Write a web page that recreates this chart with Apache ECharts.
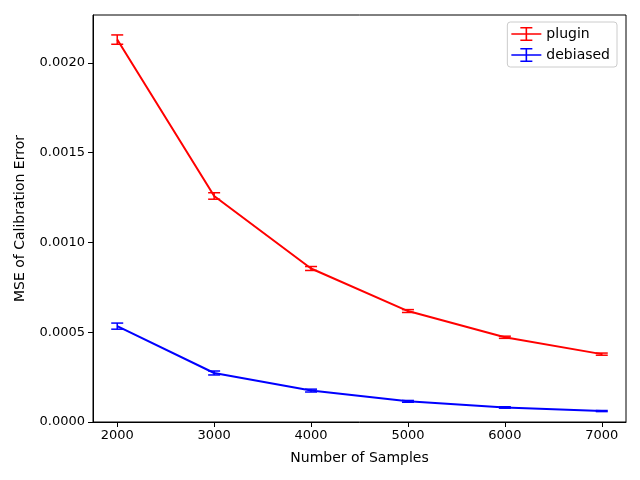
<!DOCTYPE html>
<html>
<head>
<meta charset="utf-8">
<script src="https://cdn.jsdelivr.net/npm/echarts@6/dist/echarts.min.js"></script>
<style>
html, body { margin: 0; padding: 0; background: #fff; }
#chart { width: 640px; height: 480px; }
</style>
</head>
<body>
<div id="chart"></div>
<script>
var samples = [2000, 3000, 4000, 5000, 6000, 7000];
var pluginMean = [0.002130, 0.001259, 0.000855, 0.000618, 0.000472, 0.000378];
var pluginErr = [0.000026, 0.000018, 0.000011, 0.000008, 0.000006, 0.000006];
var debiasedMean = [0.000534, 0.000273, 0.000175, 0.000115, 0.000081, 0.000061];
var debiasedErr = [0.000017, 0.000011, 0.000008, 0.000005, 0.000004, 0.000003];
var xTicks = [2000, 3000, 4000, 5000, 6000, 7000];
var yTicks = [0, 0.0005, 0.0010, 0.0015, 0.0020];

var font = 'DejaVu Sans';
var legendIcon = 'path://M0,6.2L30,6.2L30,7.8L0,7.8Z M14.2,0L15.8,0L15.8,14L14.2,14Z M9,0L21,0L21,1.6L9,1.6Z M9,12.4L21,12.4L21,14L9,14Z';

function errorSeries(name, color, mean, err) {
    return {
        name: name,
        type: 'custom',
        z: 3,
        data: samples.map(function (x, i) {
            return [x, mean[i] - err[i], mean[i] + err[i]];
        }),
        renderItem: function (params, api) {
            var lo = api.coord([api.value(0), api.value(1)]);
            var hi = api.coord([api.value(0), api.value(2)]);
            var w = 6;
            var st = { stroke: color, lineWidth: 1.5 };
            return {
                type: 'group',
                children: [
                    { type: 'line', shape: { x1: lo[0], y1: lo[1], x2: hi[0], y2: hi[1] }, style: st },
                    { type: 'line', shape: { x1: lo[0] - w, y1: lo[1], x2: lo[0] + w, y2: lo[1] }, style: st },
                    { type: 'line', shape: { x1: hi[0] - w, y1: hi[1], x2: hi[0] + w, y2: hi[1] }, style: st }
                ]
            };
        }
    };
}

function lineSeries(name, color, mean) {
    return {
        name: name,
        type: 'line',
        z: 2,
        symbol: 'none',
        lineStyle: { color: color, width: 2 },
        itemStyle: { color: color },
        data: samples.map(function (x, i) { return [x, mean[i]]; })
    };
}

var chart = echarts.init(document.getElementById('chart'), null, { renderer: 'canvas' });
chart.setOption({
    backgroundColor: '#fff',
    animation: false,
    textStyle: { fontFamily: font },
    grid: {
        left: 93, right: 14, top: 15, bottom: 58,
        show: true, borderColor: '#000', borderWidth: 1, backgroundColor: 'transparent'
    },
    legend: {
        right: 23,
        top: 22,
        orient: 'vertical',
        itemWidth: 30,
        itemHeight: 14,
        itemGap: 7,
        padding: [5, 7, 5, 4],
        borderColor: '#cccccc',
        borderWidth: 1,
        borderRadius: 3,
        backgroundColor: '#fff',
        textStyle: { fontFamily: font, fontSize: 14, color: '#000' },
        data: [
            { name: 'plugin', icon: legendIcon, itemStyle: { color: '#ff0000' } },
            { name: 'debiased', icon: legendIcon, itemStyle: { color: '#0000ff' } }
        ]
    },
    xAxis: {
        type: 'value',
        min: 1750,
        max: 7250,
        name: 'Number of Samples',
        nameLocation: 'middle',
        nameGap: 29,
        nameTextStyle: { fontFamily: font, fontSize: 14, color: '#000' },
        splitLine: { show: false },
        axisLine: { lineStyle: { color: '#000' } },
        axisTick: { show: true, length: 5, lineStyle: { color: '#000' }, customValues: xTicks },
        axisLabel: {
            color: '#000', fontSize: 13, fontFamily: font, margin: 7, customValues: xTicks,
            formatter: function (v) { return String(v); }
        }
    },
    yAxis: {
        type: 'value',
        min: 0,
        max: 0.002267,
        name: 'MSE of Calibration Error',
        nameLocation: 'middle',
        nameGap: 66,
        nameTextStyle: { fontFamily: font, fontSize: 14, color: '#000' },
        splitLine: { show: false },
        axisLine: { show: true, lineStyle: { color: '#000' } },
        axisTick: { show: true, length: 5, lineStyle: { color: '#000' }, customValues: yTicks },
        axisLabel: {
            color: '#000', fontSize: 13, fontFamily: font, margin: 8,
            customValues: yTicks,
            formatter: function (v) { return v.toFixed(4); }
        }
    },
    series: [
        lineSeries('plugin', '#ff0000', pluginMean),
        errorSeries('plugin', '#ff0000', pluginMean, pluginErr),
        lineSeries('debiased', '#0000ff', debiasedMean),
        errorSeries('debiased', '#0000ff', debiasedMean, debiasedErr)
    ]
});
</script>
</body>
</html>
